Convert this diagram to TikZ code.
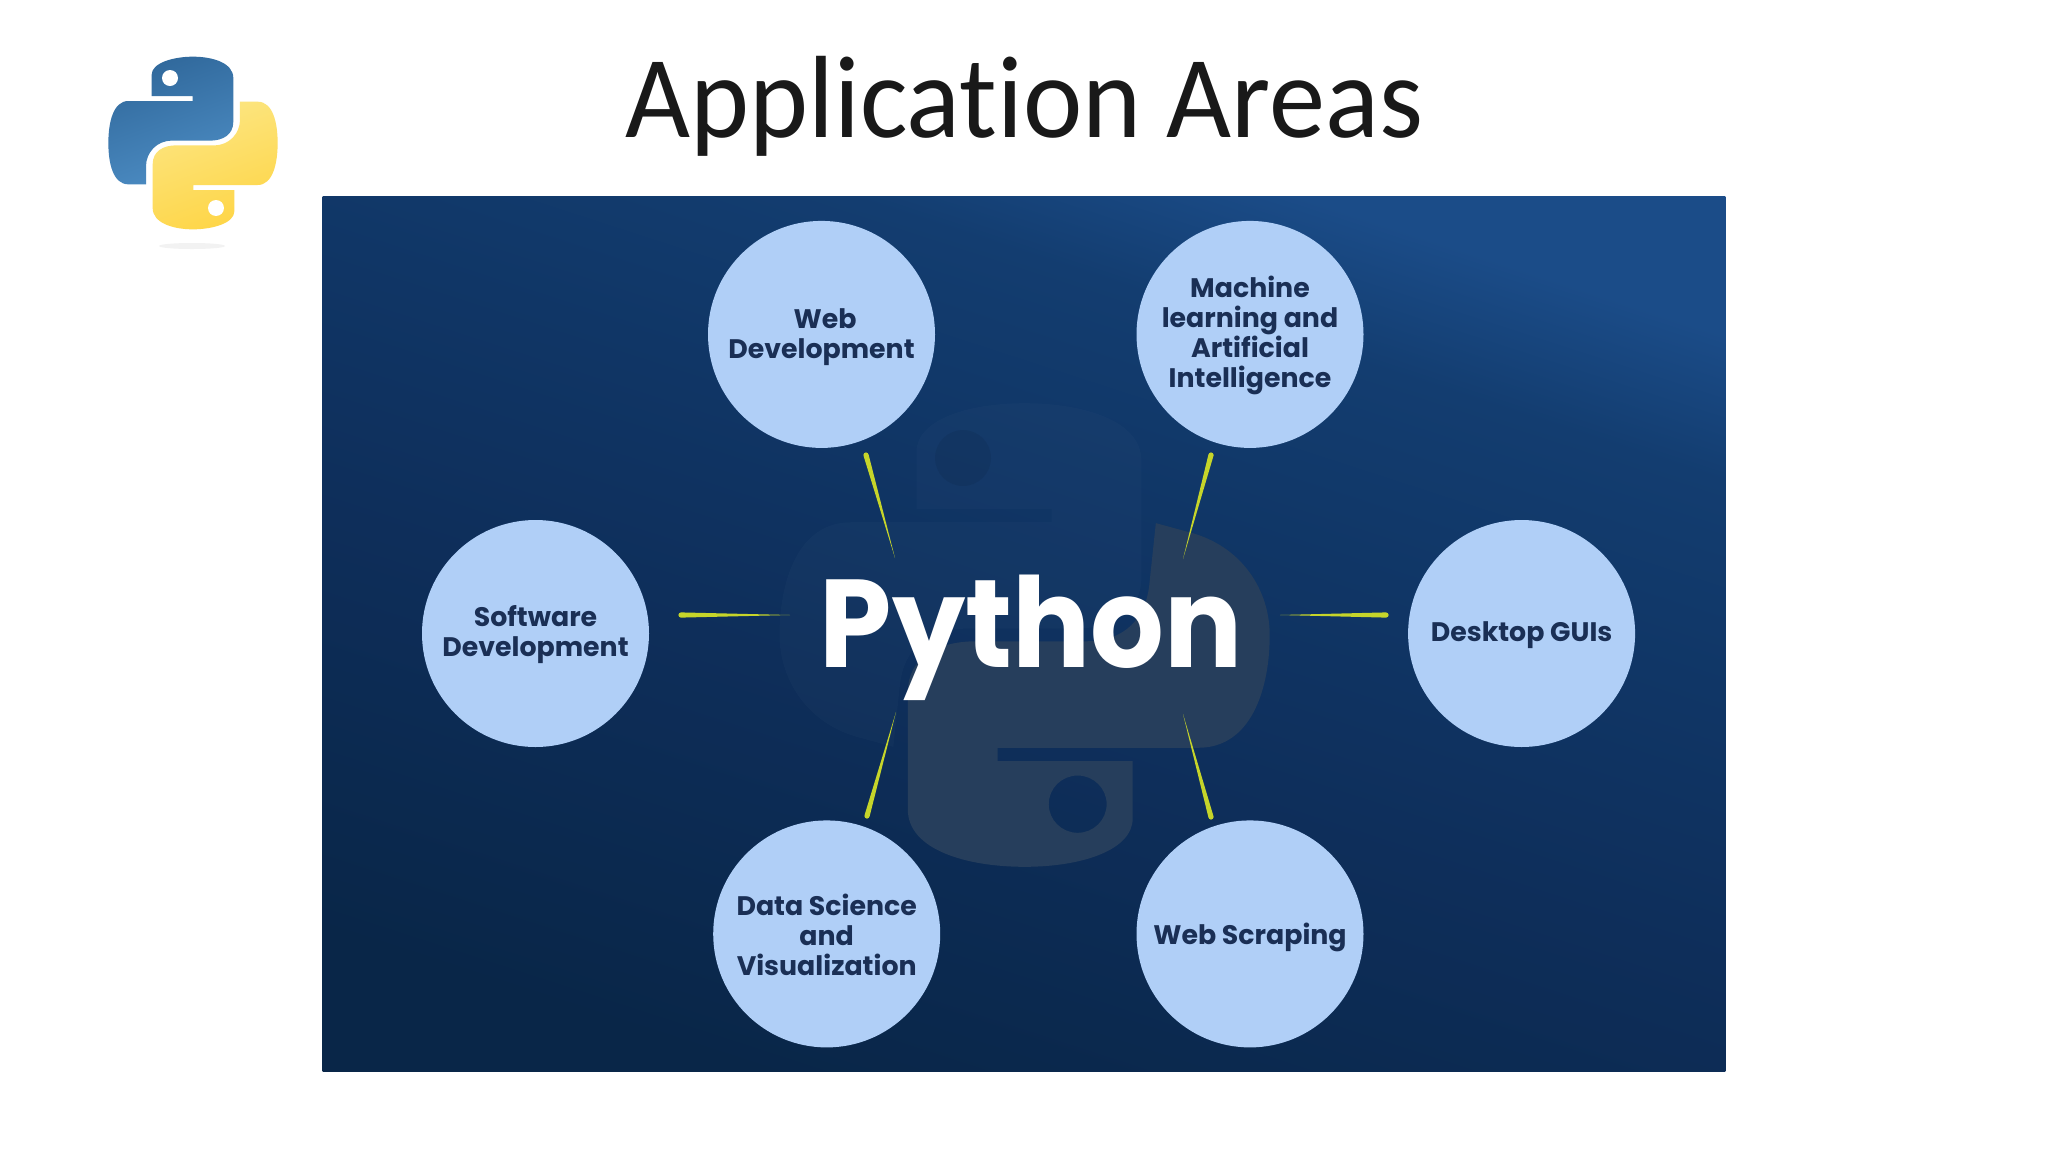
\documentclass[tikz,border=0pt]{standalone}
\usepackage{fontspec}
\setmainfont{Carlito}[Ligatures=NoCommon]
\newfontfamily\popf{Poppins}
\usetikzlibrary{calc}
\definecolor{bubble}{HTML}{B0CFF7}
\definecolor{navy}{HTML}{1A2F55}
\definecolor{raycol}{HTML}{C6D52A}
\definecolor{ylight}{HTML}{FCE683}
\definecolor{ydark}{HTML}{FED546}
\definecolor{bluelight}{HTML}{4C8CC3}
\definecolor{bluedark}{HTML}{30689B}
\definecolor{wmark}{RGB}{38,62,92}
\definecolor{pga}{RGB}{9,38,72}
\definecolor{pgb}{RGB}{14,46,90}
\definecolor{pgc}{RGB}{16,54,102}
\definecolor{pgd}{RGB}{19,61,112}
\definecolor{pge}{RGB}{27,76,136}
\pgfdeclareverticalshading{panelgrad}{100bp}{
  color(0bp)=(pga);
  color(25bp)=(pga);
  color(45bp)=(pgb);
  color(58bp)=(pgc);
  color(68bp)=(pgd);
  color(75bp)=(pge);
  color(100bp)=(pge)}
\newcommand{\snakeshape}{(141,-124) -- (194,-124) .. controls (240,-124) and (254,-60) .. (254,0) .. controls (254,60) and (240,126) .. (194,126) -- (1,126) -- (1,141) -- (124,141) -- (124,205) .. controls (124,240) and (60,259) .. (0,259) .. controls (-60,259) and (-121,240) .. (-121,195) -- (-121,64) .. controls (-121,25) and (-90,7) .. (-50,7) -- (64,7) .. controls (110,7) and (141,-30) .. (141,-70) -- cycle}
\newcommand{\wmshape}{(136,-125) -- (170,-115) .. controls (225,-100) and (254,-50) .. (254,0) .. controls (254,60) and (235,126) .. (180,126) -- (-28,126) -- (-28,141) -- (112,141) -- (112,205) .. controls (112,240) and (60,259) .. (0,259) .. controls (-60,259) and (-121,240) .. (-121,195) -- (-121,64) .. controls (-121,25) and (-90,7) .. (-50,7) -- (64,7) .. controls (105,7) and (125,-20) .. (129,-54) -- cycle}
\newcommand{\raydraw}[2]{\fill[raycol] ($(#1)!2.6pt!90:(#2)$) -- (#2) -- ($(#1)!2.6pt!-90:(#2)$) -- cycle (#1) circle (2.6);}
\tikzset{
  bubblenode/.style={circle,fill=bubble,minimum size=227pt,inner sep=0pt},
  bubbletext/.style={text=navy,align=center,inner sep=0pt,font=\popf\bfseries\fontsize{26.8}{30}\selectfont},
}
\begin{document}
\begin{tikzpicture}[x=1pt,y=-1pt]
\path[use as bounding box,fill=white] (0,0) rectangle (2048,1152);
% small logo
\fill[black!5] (192,246) ellipse (33 and 3);
\begin{scope}[shift={(193,143)},scale=0.3333]
\shade[left color=ylight,right color=ydark,shading angle=20] \snakeshape;
\fill[white] (69,195) circle (24);
\end{scope}
\begin{scope}[shift={(193,143)},scale=0.3333,rotate=180]
\shade[left color=bluedark,right color=bluelight,shading angle=20] \snakeshape;
\fill[white] (69,195) circle (24);
\end{scope}
% panel
\shade[shading=panelgrad,shading angle=-18] (322.6,196) rectangle (1725.4,1071);
% watermark
\begin{scope}[shift={(1024.6,635)},xscale=0.965,yscale=0.895,rotate=180]
\fill[white,fill opacity=0.018] \wmshape;
\end{scope}
\fill[black,fill opacity=0.06] (963,458) circle (28);
\begin{scope}[shift={(1024.6,635)},xscale=0.965,yscale=0.895]
\fill[fill=wmark,even odd rule] \wmshape (55,189) ellipse (30 and 32);
\end{scope}
% title
\node[anchor=base,font=\fontsize{117}{117}\selectfont,text=black!90,inner sep=0pt,xscale=0.96,transform shape] (title) at (1024.5,137) {Application Areas};
% centre text
\node[anchor=base,font=\popf\bfseries\fontsize{125}{125}\selectfont,text=white,inner sep=0pt,xscale=0.927,transform shape] (center) at (1031,667) {Python};
% bubbles
\node[bubblenode,label={[bubbletext,yshift=-2.6pt]center:\hspace{7pt}Web\\Development}] (web) at (821.5,334.4) {};
\node[bubblenode,label={[bubbletext,yshift=-1.3pt]center:Machine\\learning and\\Artificial\\Intelligence}] (ml) at (1250,334.4) {};
\node[bubblenode,label={[bubbletext,yshift=-1.3pt]center:Software\\Development}] (soft) at (535.5,633.5) {};
\node[bubblenode,label={[bubbletext,yshift=-2pt]center:Desktop GUIs}] (gui) at (1521.6,633.5) {};
\node[bubblenode,label={[bubbletext,yshift=-0.6pt]center:Data Science\\and\\Visualization}] (data) at (826.7,933.9) {};
\node[bubblenode,label={[bubbletext,yshift=-3.9pt]center:Web Scraping}] (scrape) at (1250,933.9) {};
% rays
\coordinate (r1a) at (866,455); \coordinate (r1b) at (895,558);
\coordinate (r2a) at (1211,455); \coordinate (r2b) at (1183,559);
\coordinate (r3a) at (867,816); \coordinate (r3b) at (896,712);
\coordinate (r4a) at (1211,817); \coordinate (r4b) at (1183,714);
\coordinate (r5a) at (681,615); \coordinate (r5b) at (790,615);
\coordinate (r6a) at (1386,615); \coordinate (r6b) at (1280,615);
\raydraw{r1a}{r1b}
\raydraw{r2a}{r2b}
\raydraw{r3a}{r3b}
\raydraw{r4a}{r4b}
\raydraw{r5a}{r5b}
\raydraw{r6a}{r6b}
\end{tikzpicture}
\end{document}
